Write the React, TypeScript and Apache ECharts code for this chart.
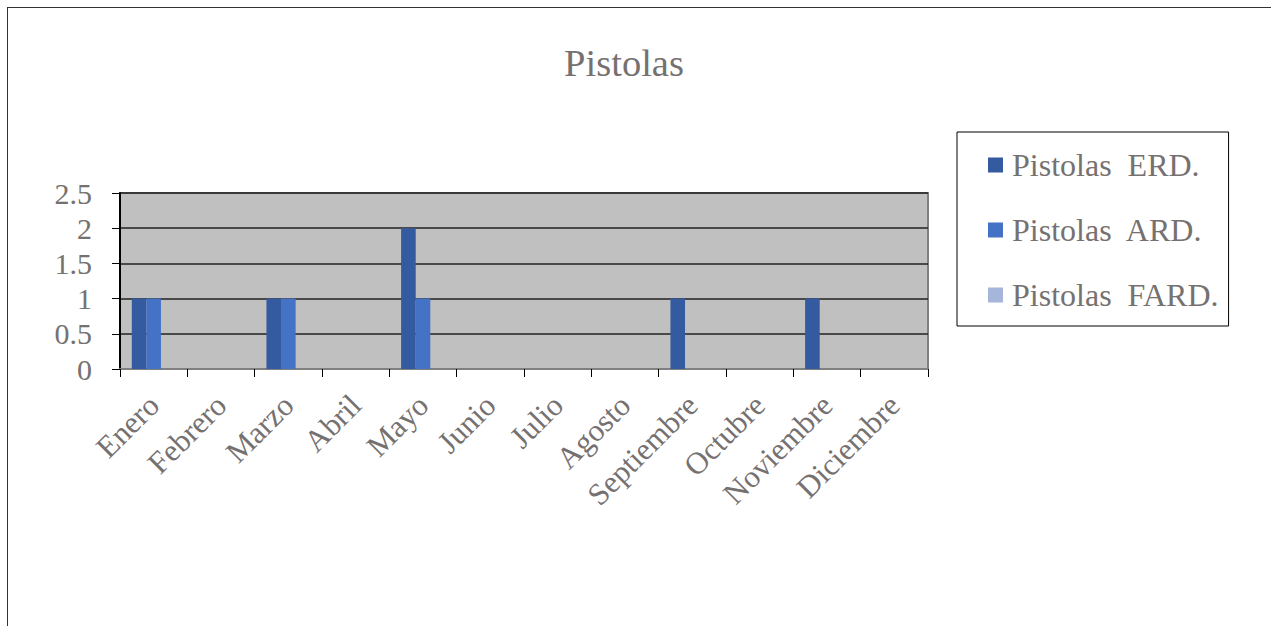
import React, { useEffect, useRef } from "react";
import * as echarts from "echarts";

const months = ["Enero", "Febrero", "Marzo", "Abril", "Mayo", "Junio", "Julio", "Agosto", "Septiembre", "Octubre", "Noviembre", "Diciembre"];
const seriesNames = ["Pistolas  ERD.", "Pistolas  ARD.", "Pistolas  FARD."];
const erd = [1, 0, 1, 0, 2, 0, 0, 0, 1, 0, 1, 0];
const ard = [1, 0, 1, 0, 1, 0, 0, 0, 0, 0, 0, 0];
const fard = [0, 0, 0, 0, 0, 0, 0, 0, 0, 0, 0, 0];
const colors = ["#345A9F", "#4472C4", "#A6B5DA"];

const FONT = "'Liberation Serif', 'Times New Roman', serif";
const GRAY = "#767171";

export default function App() {
  const ref = useRef<HTMLDivElement>(null);
  useEffect(() => {
    if (!ref.current) return;
    const chart = echarts.init(ref.current, undefined, { renderer: "svg" });
    const values = [erd, ard, fard];
    chart.setOption({
      animation: false,
      title: {
        text: "Pistolas",
        left: 611,
        top: 30,
        textAlign: "center",
        textStyle: { fontFamily: FONT, fontSize: 38.5, fontWeight: "normal", color: GRAY },
      },
      legend: {
        orient: "vertical",
        left: 949,
        top: 124,
        padding: [17, 10, 15, 31],
        itemGap: 33,
        itemWidth: 15,
        itemHeight: 15,
        borderColor: "#000",
        borderWidth: 1,
        backgroundColor: "#fff",
        icon: "rect",
        data: seriesNames,
        textStyle: { fontFamily: FONT, fontSize: 32, color: GRAY, padding: [0, 0, 0, 4], lineHeight: 32 },
      },
      grid: {
        left: 112,
        top: 185,
        width: 808,
        height: 176,
        show: true,
        backgroundColor: "#C0C0C0",
        borderColor: "#808080",
        borderWidth: 2,
      },
      xAxis: {
        type: "category",
        data: months,
        boundaryGap: true,
        axisLine: { lineStyle: { color: "#808080", width: 2 } },
        axisTick: { show: true, length: 8, lineStyle: { color: "#000" } },
        axisLabel: {
          rotate: 45,
          margin: 31,
          interval: 0,
          fontFamily: FONT,
          fontSize: 31,
          color: GRAY,
        },
      },
      yAxis: {
        type: "value",
        min: 0,
        max: 2.5,
        interval: 0.5,
        axisLine: { show: true, lineStyle: { color: "#000", width: 2 } },
        axisTick: { show: true, length: 8, lineStyle: { color: "#000" } },
        axisLabel: { margin: 28, fontFamily: FONT, fontSize: 30, color: GRAY },
        splitLine: { show: true, lineStyle: { color: "#222", width: 1.5 } },
      },
      series: seriesNames.map((name, i) => ({
        name,
        type: "bar",
        data: values[i],
        barGap: "0%",
        barCategoryGap: "35%",
        itemStyle: { color: colors[i] },
      })),
    });
    return () => chart.dispose();
  }, []);
  return (
    <div style={{ position: "fixed", left: 0, top: 0, width: "100vw", height: "100vh", overflow: "hidden", background: "#fff" }}>
      <div
        style={{
          position: "absolute",
          left: 7,
          top: 7,
          width: 1300,
          height: 660,
          border: "1px solid #333",
          boxSizing: "content-box",
        }}
      >
        <div ref={ref} style={{ width: 1300, height: 660 }} />
      </div>
    </div>
  );
}
